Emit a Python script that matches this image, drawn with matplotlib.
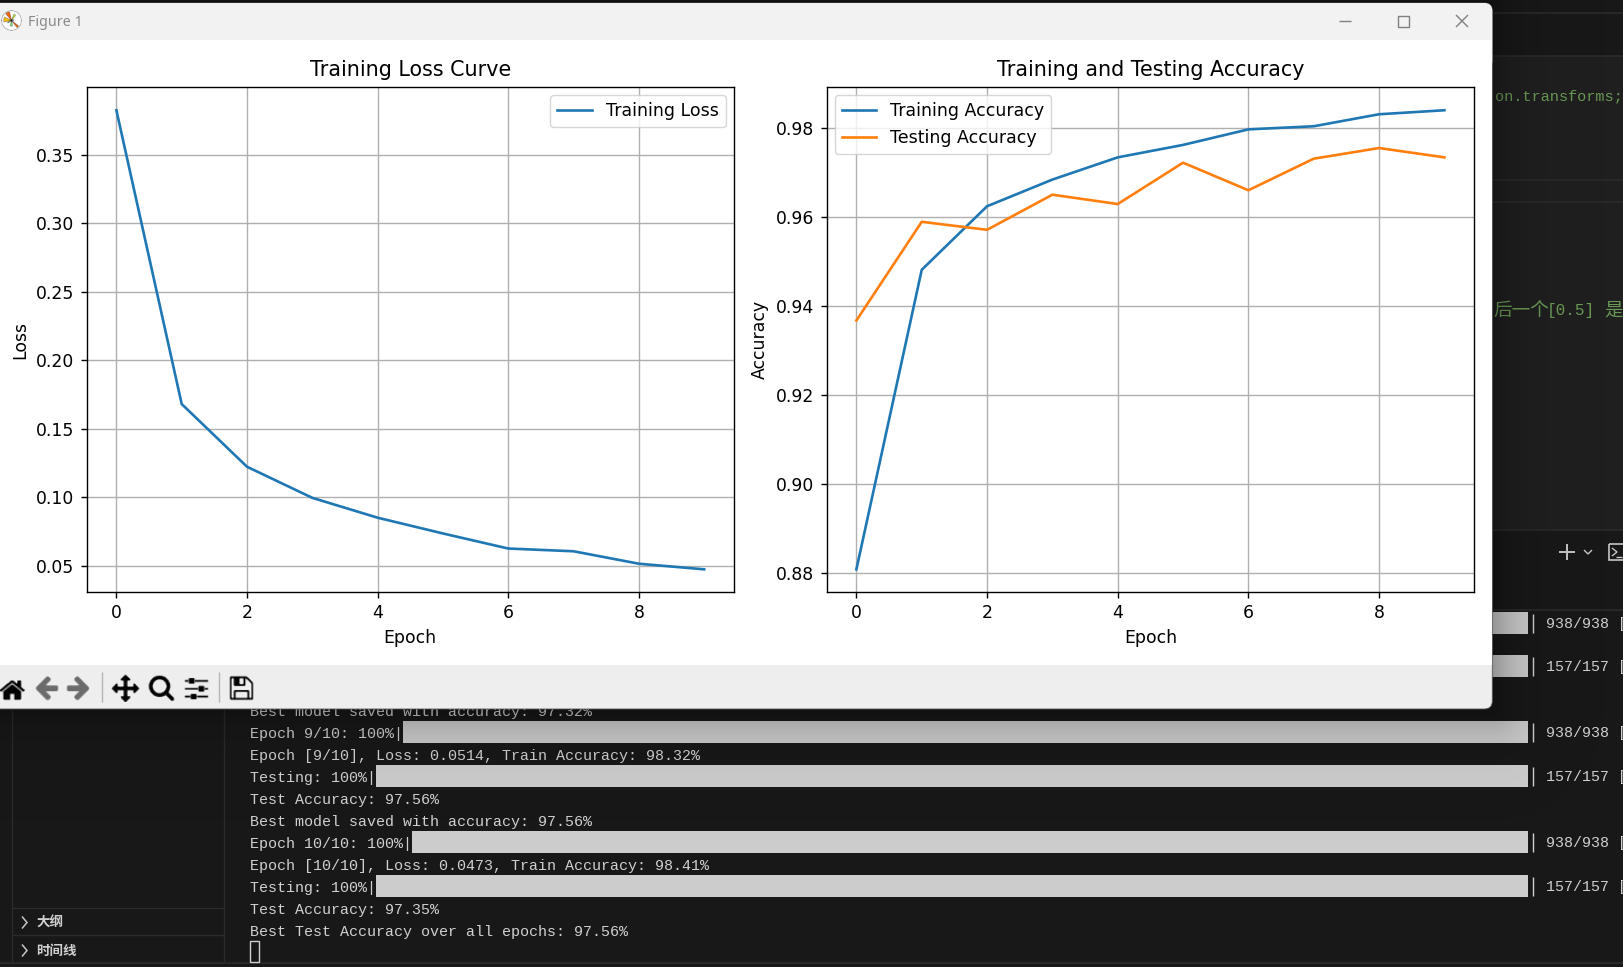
import os
import numpy as np
import matplotlib
matplotlib.use("Agg")
import matplotlib.pyplot as plt
from matplotlib.patches import Rectangle, FancyBboxPatch

W, H = 1624, 967

# ---------- chart data ----------
epochs = list(range(10))
train_loss = [0.3825, 0.1680, 0.1222, 0.0995, 0.0850, 0.0735, 0.0625, 0.0605, 0.0514, 0.0473]
train_acc = [0.8808, 0.9482, 0.9625, 0.9685, 0.9735, 0.9763, 0.9798, 0.9805, 0.9832, 0.9841]
test_acc = [0.9368, 0.9590, 0.9572, 0.9651, 0.9630, 0.9723, 0.9661, 0.9732, 0.9756, 0.9735]

# ---------- terminal text ----------
terminal_lines = [
    "Best model saved with accuracy: 97.32%",
    "Epoch 9/10: 100%|",
    "Epoch [9/10], Loss: 0.0514, Train Accuracy: 98.32%",
    "Testing: 100%|",
    "Test Accuracy: 97.56%",
    "Best model saved with accuracy: 97.56%",
    "Epoch 10/10: 100%|",
    "Epoch [10/10], Loss: 0.0473, Train Accuracy: 98.41%",
    "Testing: 100%|",
    "Test Accuracy: 97.35%",
    "Best Test Accuracy over all epochs: 97.56%",
]
bar_counts = ["938/938 [", "157/157 [", "938/938 [", "157/157 [", "938/938 [", "157/157 ["]
sidebar_items = ["大纲", "时间线"]

plt.rcParams.update({
    "font.family": ["DejaVu Sans"],
    "font.size": 12.4,
    "axes.titlesize": 14.9,
    "axes.labelsize": 12.4,
    "axes.linewidth": 1.0,
    "lines.linewidth": 1.9,
    "grid.linewidth": 1.0,
    "xtick.major.size": 4.4,
    "ytick.major.size": 4.4,
    "xtick.major.width": 1.0,
    "ytick.major.width": 1.0,
    "xtick.major.pad": 3.8,
    "ytick.major.pad": 4.8,
    "legend.fontsize": 12.5,
    "legend.borderaxespad": 0.45,
})

fig = plt.figure(figsize=(W / 100, H / 100), dpi=100, facecolor="#181818")

# Full-figure pixel-space canvas for the screenshot surroundings
bg = fig.add_axes([0, 0, 1, 1], zorder=0)
bg.set_axis_off()

MONO = ["Liberation Mono", "Noto Sans CJK SC"]
CJK = ["Noto Sans CJK SC", "DejaVu Sans"]
TXT = "#d0d0d0"
LINE = "#2b2b2b"
WIN_R = 1492.3


def rect(x0, y0, x1, y1, color, z=1):
    bg.add_patch(Rectangle((x0, y0), x1 - x0, y1 - y0, fc=color, ec="none", zorder=z))


def seg(xs, ys, color, lw=1.0, z=2):
    bg.plot(xs, ys, color=color, lw=lw, zorder=z, solid_capstyle="butt", solid_joinstyle="miter")


# editor panels
rect(1493, 56, W, 530, "#1f1f1f")
for y in (13, 56, 180, 202, 530, 610):
    seg([1493, W], [y, y], LINE, 1.2)
bg.text(1495.5, 96, "on.transforms;", family=MONO, fontsize=11.0, color="#6a9955", va="center", zorder=2)
bg.text(1493, 311, "后一个", family=CJK, fontsize=13.4, color="#6a9955", va="center", zorder=2)
bg.text(1547, 311, "[0.5]", family=MONO, fontsize=11.5, color="#6a9955", va="center", zorder=2)
bg.text(1604, 311, "是", family=CJK, fontsize=13.4, color="#6a9955", va="center", zorder=2)

# terminal header icons
seg([1559, 1575], [552, 552], "#c5c5c5", 1.4)
seg([1567, 1567], [544, 560], "#c5c5c5", 1.4)
seg([1584, 1588, 1592], [550, 554, 550], "#c5c5c5", 1.0)
bg.add_patch(Rectangle((1609, 544), 20, 16, fc="none", ec="#c5c5c5", lw=1.2, zorder=2))
seg([1612, 1617, 1612], [548, 552, 556], "#c5c5c5", 1.0)
seg([1616, 1622], [557, 557], "#c5c5c5", 1.0)

# sidebar
seg([11.7, 11.7], [709, 962], LINE, 1.0)
seg([224.5, 224.5], [709, 962], LINE, 1.0)
for y in (908, 935):
    seg([11.7, 224.5], [y, y], LINE, 1.0)
seg([0, W], [963, 963], LINE, 1.2)
for y, label in zip((922.5, 950.5), sidebar_items):
    seg([22, 27, 22], [y - 6, y, y + 6], "#c5c5c5", 1.1)
    bg.text(36.5, y, label, family=CJK, fontsize=9.7, fontweight="bold", color=TXT, va="center", zorder=2)

# terminal log
for i, line in enumerate(terminal_lines):
    bg.text(250, 711.7 + 22 * i, line, family=MONO, fontsize=10.83, color=TXT, va="center", zorder=2)

# progress bars
bar_rows = [(612, 1400), (655, 1400), (720.8, 403), (765, 376), (831, 412), (875, 376)]
for (y0, x0), count in zip(bar_rows, bar_counts):
    rect(x0, y0, 1528, y0 + 21.8, "#cccccc", 2)
    seg([1532.7, 1532.7], [y0 + 2, y0 + 21], TXT, 1.0)
    bg.text(1546, y0 + 12, count, family=MONO, fontsize=10.83, color=TXT, va="center", zorder=2)

# cursor
bg.add_patch(Rectangle((250.5, 941), 8.5, 21, fc="none", ec=TXT, lw=1.0, zorder=2))

# window drop shadow
yy, xx = np.mgrid[0:H, 0:W]
dx = np.maximum(xx - WIN_R, 0)
dy = np.maximum(yy - 709, 0)
dist = np.hypot(dx, dy)
shadow = np.zeros((H, W, 4))
shadow[..., 3] = 0.28 * np.exp(-dist / 26.0)
bg.imshow(shadow, extent=(0, W, H, 0), aspect="auto", zorder=3, interpolation="bilinear")

# window body
bg.add_patch(FancyBboxPatch((-30, 3 + 8), WIN_R + 30 - 8, 706 - 16, boxstyle="round,pad=8",
                            fc="#eeeeee", ec="#555555", lw=0.6, zorder=4))
bg.add_patch(FancyBboxPatch((-30, 3 + 8), WIN_R + 30 - 8, 50, boxstyle="round,pad=8",
                            fc="#f2f2f2", ec="none", zorder=4.1))
rect(-30, 40, WIN_R, 665, "#ffffff", 4.2)

# title bar
img_dir = os.path.join(matplotlib.get_data_path(), "images")


def icon(name, cx, cy, size, z=5, alpha=1.0):
    im = plt.imread(os.path.join(img_dir, name))
    bg.imshow(im, extent=(cx - size / 2, cx + size / 2, cy + size / 2, cy - size / 2),
              aspect="auto", zorder=z, interpolation="bilinear", alpha=alpha if alpha < 1 else None)


icon("matplotlib_large.png", 11.6, 20.7, 21)
bg.text(28, 23, "Figure 1", family="Noto Sans", fontsize=10.3, color="#8a8a8a", va="center", zorder=5)
seg([1339, 1351], [20.7, 20.7], "#808080", 1.0, 5)
bg.add_patch(Rectangle((1398, 15.5), 11, 11, fc="none", ec="#808080", lw=1.0, zorder=5))
seg([1456, 1468], [15, 27], "#808080", 1.0, 5)
seg([1456, 1468], [27, 15], "#808080", 1.0, 5)

# toolbar
for name, cx, a in (("home.png", 12, 1), ("back.png", 47, 0.55), ("forward.png", 79, 0.55), ("move.png", 126, 1),
                    ("zoom_to_rect.png", 162, 1), ("subplots.png", 197, 1), ("filesave.png", 242, 1)):
    icon(name, cx, 687.5, 29, alpha=a)
for x in (102.5, 219.5):
    seg([x, x], [672, 702], "#b5b5b5", 1.0, 5)

bg.set_xlim(0, W)
bg.set_ylim(H, 0)


# ---------- the two real charts ----------
def axes_px(x0, y0, x1, y1):
    return fig.add_axes([x0 / W, 1 - y1 / H, (x1 - x0) / W, (y1 - y0) / H], zorder=10)


ax1 = axes_px(87.0, 87.3, 733.6, 592.3)
ax1.plot(epochs, train_loss, label="Training Loss")
ax1.set_title("Training Loss Curve", pad=8.3)
ax1.set_xlabel("Epoch", labelpad=5.0)
ax1.set_ylabel("Loss", labelpad=5.0)
ax1.grid(True)
ax1.legend(loc="upper right")

ax2 = axes_px(827.0, 87.3, 1473.8, 592.3)
ax2.plot(epochs, train_acc, label="Training Accuracy")
ax2.plot(epochs, test_acc, label="Testing Accuracy")
ax2.set_title("Training and Testing Accuracy", pad=8.3)
ax2.set_xlabel("Epoch", labelpad=5.0)
ax2.set_ylabel("Accuracy", labelpad=5.0)
ax2.grid(True)
ax2.legend(loc="upper left")

fig.savefig("out.png", dpi=100, facecolor=fig.get_facecolor())
